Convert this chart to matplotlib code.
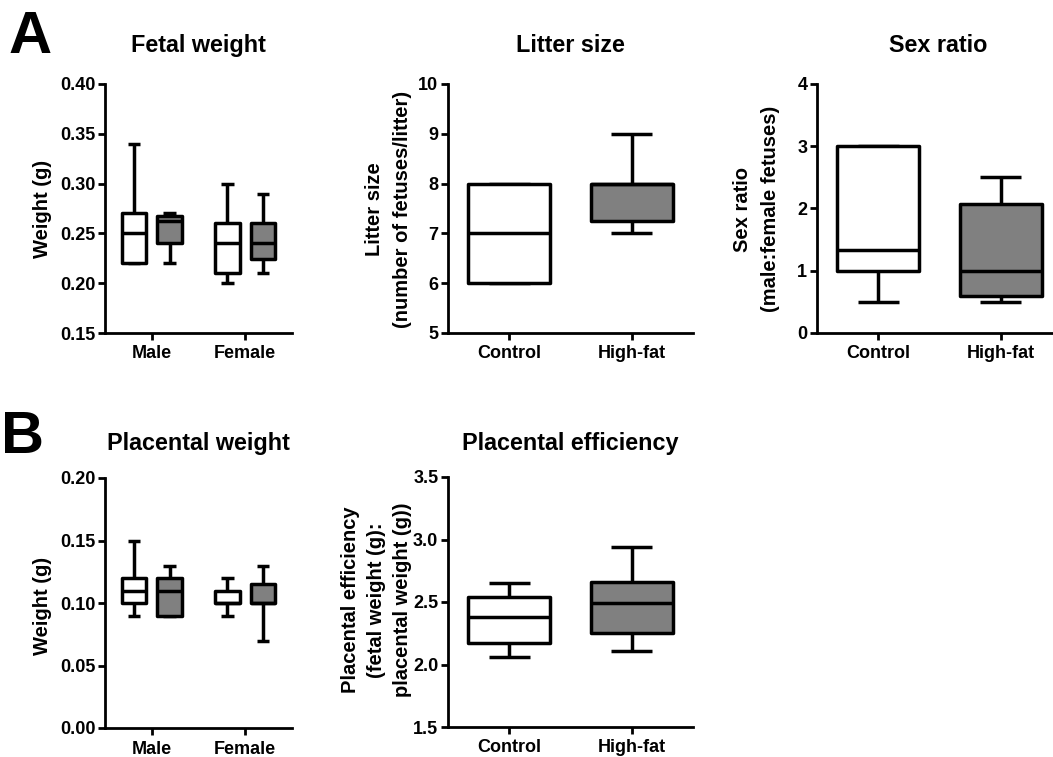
import matplotlib
matplotlib.use("Agg")
import matplotlib.pyplot as plt
import numpy as np

plt.rcParams['font.family'] = ['Liberation Sans', 'DejaVu Sans']
plt.rcParams['font.weight'] = 'bold'

# ---------------- data ----------------
sex_groups = ["Male", "Female"]
diet_groups = ["Control", "High-fat"]

# Fetal weight (g): per sex, control / high-fat
fetal_ctrl_min = [0.22, 0.20]
fetal_ctrl_q1 = [0.22, 0.21]
fetal_ctrl_med = [0.25, 0.24]
fetal_ctrl_q3 = [0.27, 0.26]
fetal_ctrl_max = [0.34, 0.30]
fetal_hf_min = [0.22, 0.21]
fetal_hf_q1 = [0.24, 0.224]
fetal_hf_med = [0.262, 0.24]
fetal_hf_q3 = [0.267, 0.26]
fetal_hf_max = [0.27, 0.29]

# Litter size: control, high-fat
litter_min = [6, 7]
litter_q1 = [6, 7.25]
litter_med = [7, 8]
litter_q3 = [8, 8]
litter_max = [8, 9]

# Sex ratio (male:female): control, high-fat
sexratio_min = [0.5, 0.5]
sexratio_q1 = [1.0, 0.6]
sexratio_med = [1.33, 1.0]
sexratio_q3 = [3.0, 2.08]
sexratio_max = [3.0, 2.5]

# Placental weight (g): per sex, control / high-fat
plac_ctrl_min = [0.09, 0.09]
plac_ctrl_q1 = [0.10, 0.10]
plac_ctrl_med = [0.11, 0.10]
plac_ctrl_q3 = [0.12, 0.11]
plac_ctrl_max = [0.15, 0.12]
plac_hf_min = [0.09, 0.07]
plac_hf_q1 = [0.09, 0.10]
plac_hf_med = [0.11, 0.10]
plac_hf_q3 = [0.12, 0.115]
plac_hf_max = [0.13, 0.13]

# Placental efficiency: control, high-fat
eff_min = [2.06, 2.11]
eff_q1 = [2.17, 2.25]
eff_med = [2.38, 2.49]
eff_q3 = [2.54, 2.66]
eff_max = [2.65, 2.94]

# ---------------- styling ----------------
W, H = 1053, 757
fig = plt.figure(figsize=(W / 100, H / 100), dpi=100)
LW = 2.5
SPINE_LW = 2.0
CTRL_COLOR = 'white'
HF_COLOR = '#808080'
TICK_FS = 13
LABEL_FS = 14.5
TITLE_FS = 16.8


def px_axes(left, top, right, bottom):
    return fig.add_axes([left / W, 1 - bottom / H, (right - left) / W, (bottom - top) / H])


def style_axes(ax, ylim, yticks, yfmt, xticklabels):
    ax.set_xlim(-0.5, 1.5)
    ax.set_ylim(*ylim)
    ax.set_yticks(yticks)
    ax.set_yticklabels([yfmt.format(v) for v in yticks])
    ax.set_xticks([0, 1])
    ax.set_xticklabels(xticklabels)
    for s in ['top', 'right']:
        ax.spines[s].set_visible(False)
    for s in ['left', 'bottom']:
        ax.spines[s].set_linewidth(SPINE_LW)
    ax.tick_params(axis='both', direction='out', length=5, width=SPINE_LW,
                   labelsize=TICK_FS)
    ax.tick_params(axis='y', pad=2)
    ax.tick_params(axis='x', pad=4)
    for lab in ax.get_xticklabels() + ax.get_yticklabels():
        lab.set_fontweight('bold')


def draw_boxes(ax, positions, mins, q1s, meds, q3s, maxs, color, width):
    stats = []
    for lo, a, m, b, hi in zip(mins, q1s, meds, q3s, maxs):
        stats.append(dict(whislo=lo, q1=a, med=m, q3=b, whishi=hi, fliers=[]))
    res = ax.bxp(stats, positions=positions, widths=width, capwidths=width * 0.5,
                 patch_artist=True, showfliers=False, manage_ticks=False,
                 boxprops=dict(facecolor=color, edgecolor='black', linewidth=LW),
                 medianprops=dict(color='black', linewidth=LW, solid_capstyle='butt'),
                 whiskerprops=dict(color='black', linewidth=LW, solid_capstyle='butt'),
                 capprops=dict(color='black', linewidth=LW, solid_capstyle='butt'))
    for b in res['boxes']:
        b.set_joinstyle('round')
        b.set_zorder(3)
    for m in res['medians']:
        m.set_zorder(4)


def ylabel_lines(lines, xs, yc):
    for line, x in zip(lines, xs):
        fig.text(x / W, 1 - yc / H, line, rotation=90, ha='center', va='center',
                 fontsize=LABEL_FS, fontweight='bold')


def title(text, xc, ybase):
    fig.text(xc / W, 1 - ybase / H, text, ha='center', va='baseline',
             fontsize=TITLE_FS, fontweight='bold')


sex_x = np.arange(len(sex_groups))
diet_x = np.arange(len(diet_groups))
OFF = 0.19
NW = 0.26
WW = 0.67

# ---- A1 Fetal weight ----
ax1 = px_axes(105, 84, 292, 333)
draw_boxes(ax1, sex_x - OFF, fetal_ctrl_min, fetal_ctrl_q1, fetal_ctrl_med,
           fetal_ctrl_q3, fetal_ctrl_max, CTRL_COLOR, NW)
draw_boxes(ax1, sex_x + OFF, fetal_hf_min, fetal_hf_q1, fetal_hf_med,
           fetal_hf_q3, fetal_hf_max, HF_COLOR, NW)
style_axes(ax1, (0.15, 0.40), np.arange(0.15, 0.401, 0.05), "{:.2f}", sex_groups)
ylabel_lines(["Weight (g)"], [43], 209)
title("Fetal weight", 198.5, 52)

# ---- A2 Litter size ----
ax2 = px_axes(448, 84, 693, 333)
draw_boxes(ax2, diet_x[:1], litter_min[:1], litter_q1[:1], litter_med[:1],
           litter_q3[:1], litter_max[:1], CTRL_COLOR, WW)
draw_boxes(ax2, diet_x[1:], litter_min[1:], litter_q1[1:], litter_med[1:],
           litter_q3[1:], litter_max[1:], HF_COLOR, WW)
style_axes(ax2, (5, 10), np.arange(5, 11, 1), "{:.0f}", diet_groups)
ylabel_lines(["Litter size", "(number of fetuses/litter)"], [375, 402], 209)
title("Litter size", 570, 52)

# ---- A3 Sex ratio ----
ax3 = px_axes(817, 84, 1062, 333)
draw_boxes(ax3, diet_x[:1], sexratio_min[:1], sexratio_q1[:1], sexratio_med[:1],
           sexratio_q3[:1], sexratio_max[:1], CTRL_COLOR, WW)
draw_boxes(ax3, diet_x[1:], sexratio_min[1:], sexratio_q1[1:], sexratio_med[1:],
           sexratio_q3[1:], sexratio_max[1:], HF_COLOR, WW)
style_axes(ax3, (0, 4), np.arange(0, 5, 1), "{:.0f}", diet_groups)
ylabel_lines(["Sex ratio", "(male:female fetuses)"], [743, 771], 209)
title("Sex ratio", 938, 52)

# ---- B1 Placental weight ----
ax4 = px_axes(105, 478, 292, 728)
draw_boxes(ax4, sex_x - OFF, plac_ctrl_min, plac_ctrl_q1, plac_ctrl_med,
           plac_ctrl_q3, plac_ctrl_max, CTRL_COLOR, NW)
draw_boxes(ax4, sex_x + OFF, plac_hf_min, plac_hf_q1, plac_hf_med,
           plac_hf_q3, plac_hf_max, HF_COLOR, NW)
style_axes(ax4, (0.0, 0.20), np.arange(0.0, 0.201, 0.05), "{:.2f}", sex_groups)
ylabel_lines(["Weight (g)"], [43], 606)
title("Placental weight", 198.5, 450)

# ---- B2 Placental efficiency ----
ax5 = px_axes(448, 477, 693, 727)
draw_boxes(ax5, diet_x[:1], eff_min[:1], eff_q1[:1], eff_med[:1],
           eff_q3[:1], eff_max[:1], CTRL_COLOR, WW)
draw_boxes(ax5, diet_x[1:], eff_min[1:], eff_q1[1:], eff_med[1:],
           eff_q3[1:], eff_max[1:], HF_COLOR, WW)
style_axes(ax5, (1.5, 3.5), np.arange(1.5, 3.51, 0.5), "{:.1f}", diet_groups)
ylabel_lines(["Placental efficiency", "(fetal weight (g):", "placental weight (g))"],
             [350, 377, 403], 600)
title("Placental efficiency", 570, 450)

# ---- panel letters ----
fig.text(9 / W, 1 - 53 / H, "A", ha='left', va='baseline', fontsize=43, fontweight='bold')
fig.text(1 / W, 1 - 453 / H, "B", ha='left', va='baseline', fontsize=43, fontweight='bold')

fig.savefig("out.png", dpi=100)
